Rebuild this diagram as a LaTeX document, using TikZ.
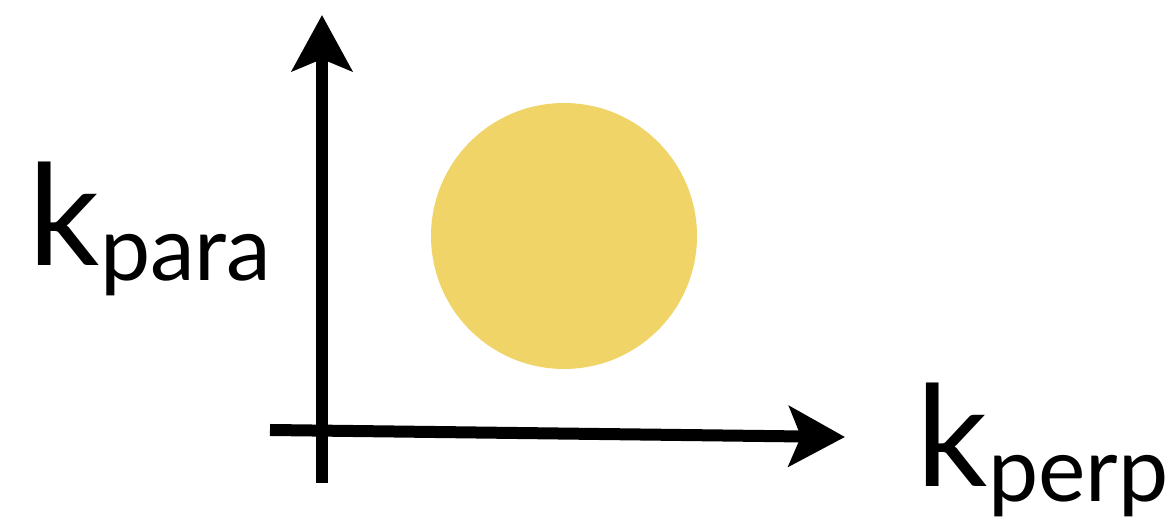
\documentclass[tikz,border=0pt]{standalone}
\usepackage{fontspec}
\setmainfont{Lato}
\usepackage{xcolor}
\usetikzlibrary{arrows.meta,calc,positioning}
\definecolor{disk}{RGB}{240,212,104}
\tikzset{axis/.style={line width=0.12cm,-{Stealth[length=0.56cm,width=0.6cm,inset=0.12cm]}},
  klabel/.style={inner sep=0pt,anchor=base west}}
\newcommand{\kbig}[1]{{\fontsize{40}{40}\selectfont k}{\fontsize{25.5}{25.5}\selectfont\raisebox{-4pt}{#1}}}

\begin{document}
\begin{tikzpicture}[>=Stealth]
\useasboundingbox (0,0) rectangle (11.71,5.17);
\coordinate (ytail) at (3.22,0.34); \coordinate (yhead) at (3.22,5.02);
\coordinate (xtail) at (2.70,0.87); \coordinate (xhead) at (8.45,0.80);
\fill[disk] (5.64,2.81) circle (1.33);
\draw[axis] (ytail)--(yhead); \draw[axis] (xtail)--(xhead);
\node[klabel] (kpara) at (0.28,2.51) {\kbig{para}};
\node[klabel] (kperp) at (9.16,0.30) {\kbig{perp}};
\end{tikzpicture}
\end{document}
